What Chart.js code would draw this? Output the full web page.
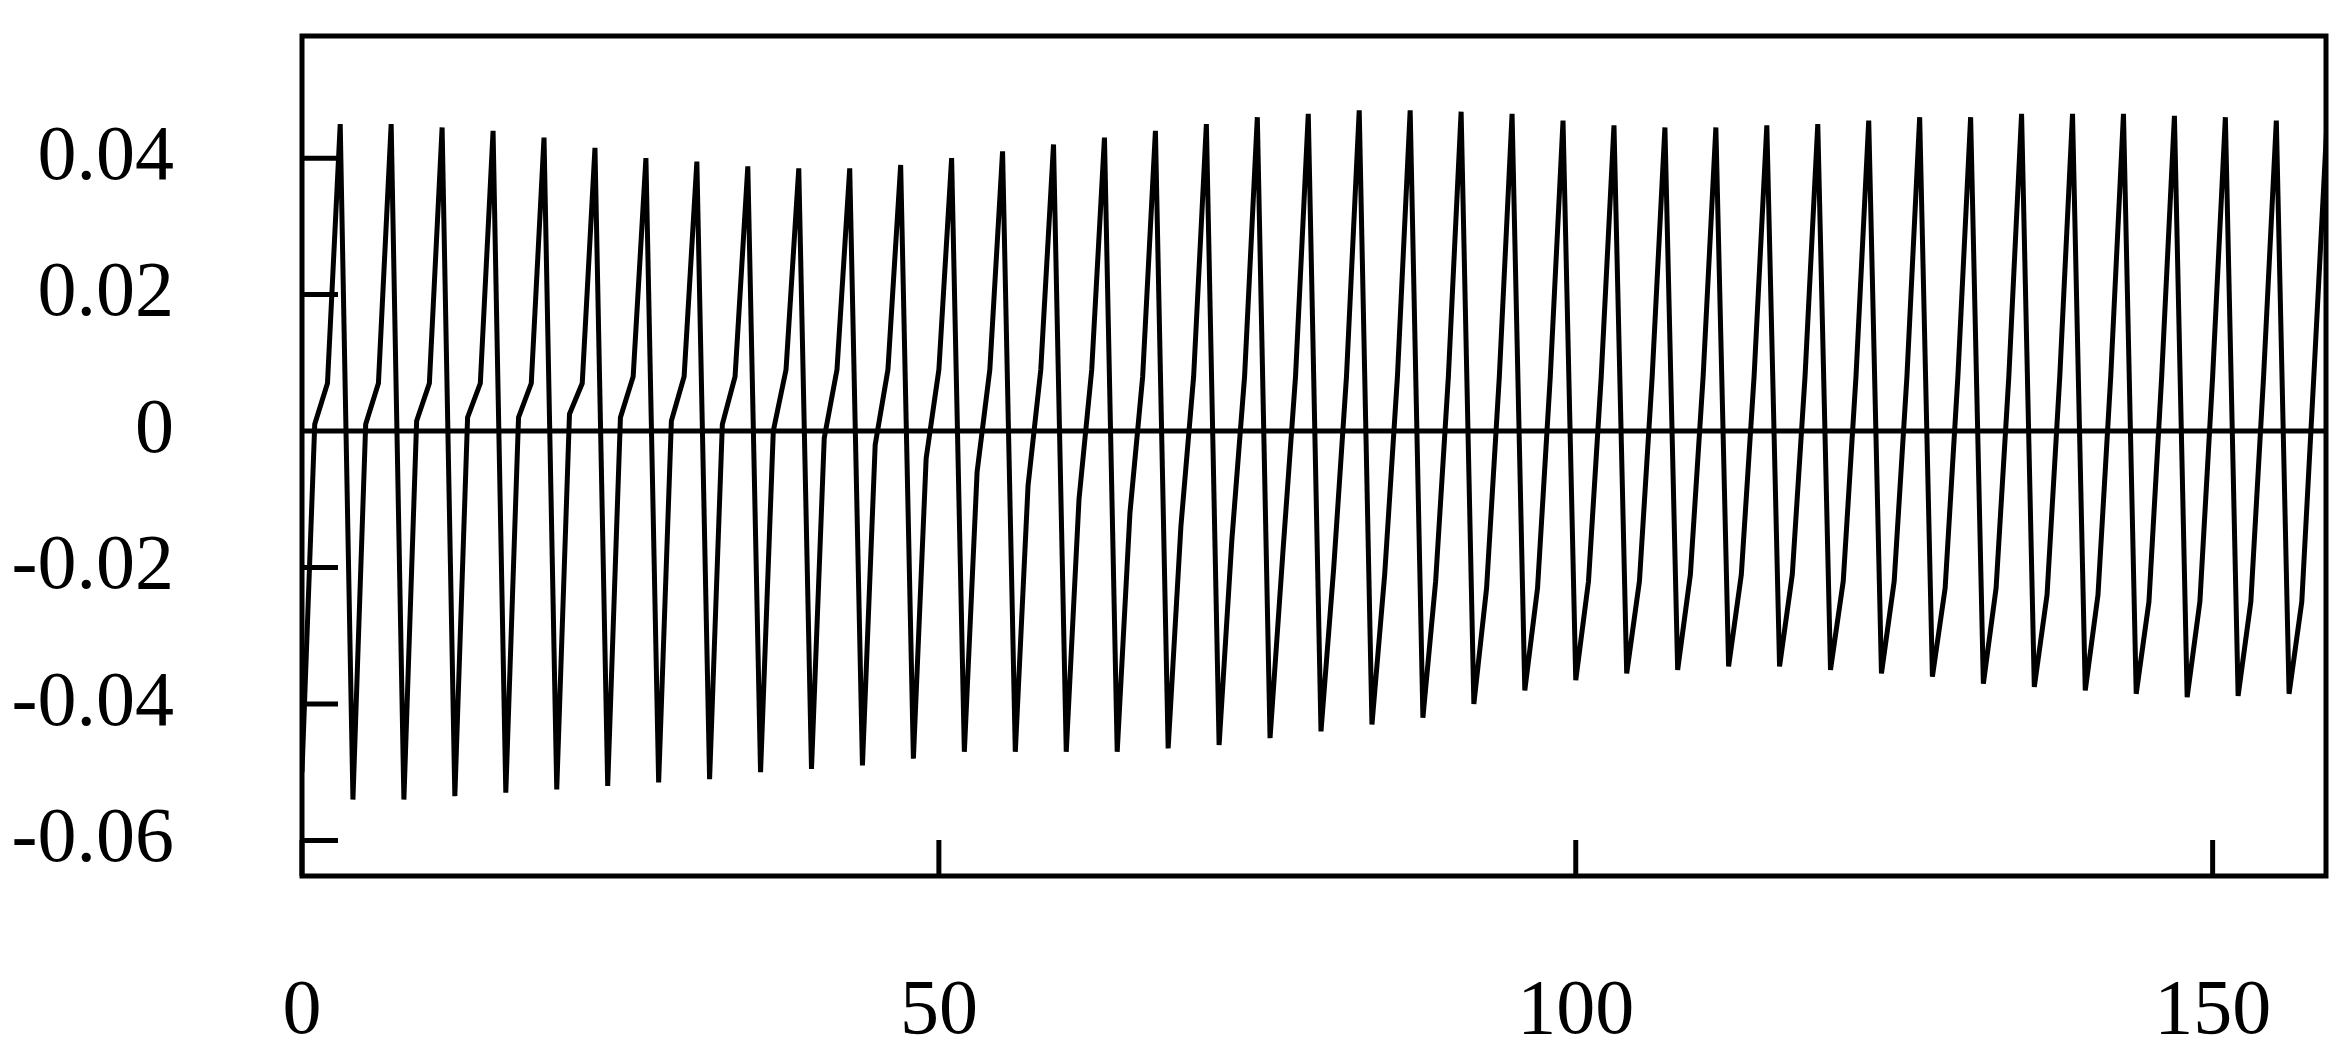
<!DOCTYPE html>
<html><head><meta charset="utf-8">
<script src="https://cdn.jsdelivr.net/npm/chart.js@4"></script>
<style>html,body{margin:0;padding:0;background:#fff}#c{display:block}</style>
</head><body><canvas id="c" width="2348" height="1062"></canvas>
<script>
const startValue = -0.050;
const riseA = [0.001,0.001,0.0015,0.002,0.002,0.0025,0.002,0.0015,0.001,0.0,-0.001,-0.002,-0.004,-0.006,-0.008,-0.010,-0.012,-0.014,-0.016,-0.018,-0.020,-0.021,-0.022,-0.023,-0.023,-0.022,-0.022,-0.021,-0.021,-0.021,-0.022,-0.022,-0.023,-0.023,-0.024,-0.024,-0.025,-0.025,-0.025,-0.025];
const riseB = [0.007,0.007,0.007,0.007,0.007,0.007,0.008,0.008,0.008,0.009,0.009,0.009,0.009,0.009,0.009,0.009,0.008,0.008,0.008,0.008,0.008,0.008,0.008,0.008,0.008,0.008,0.008,0.008,0.008,0.008,0.008,0.008,0.008,0.008,0.008,0.008,0.008,0.008,0.008,0.010];
const peaks = [0.045,0.045,0.0445,0.044,0.043,0.0415,0.040,0.0395,0.0388,0.0385,0.0385,0.039,0.040,0.041,0.042,0.043,0.044,0.045,0.046,0.0465,0.047,0.047,0.0468,0.0465,0.0455,0.0448,0.0445,0.0445,0.0448,0.045,0.0455,0.046,0.046,0.0465,0.0465,0.0465,0.0462,0.046,0.0455,0.046];
const troughs = [-0.054,-0.054,-0.0535,-0.053,-0.0525,-0.052,-0.0515,-0.051,-0.050,-0.0495,-0.049,-0.048,-0.047,-0.047,-0.047,-0.047,-0.0465,-0.046,-0.045,-0.044,-0.043,-0.042,-0.040,-0.038,-0.0365,-0.0355,-0.035,-0.0345,-0.0345,-0.035,-0.0355,-0.036,-0.037,-0.0375,-0.038,-0.0385,-0.039,-0.0388,-0.0385];
const xTicks = [0,50,100,150];
const yTicks = [-0.06,-0.04,-0.02,0,0.02,0.04];

const pts = [{x:0,y:startValue}];
for (let k=0;k<peaks.length;k++){
  pts.push({x:4*k+1,y:riseA[k]});
  pts.push({x:4*k+2,y:riseB[k]});
  pts.push({x:4*k+3,y:peaks[k]});
  if (k<troughs.length) pts.push({x:4*k+4,y:troughs[k]});
}
const fontSpec = {family:'"Liberation Serif", "Times New Roman", serif', size:78};
const frame = {
  id:'frame',
  afterDraw(chart){
    const {ctx, chartArea:a, scales:{x,y}} = chart;
    ctx.save();
    ctx.strokeStyle='#000'; ctx.lineWidth=5;
    ctx.strokeRect(a.left,a.top,a.right-a.left,a.bottom-a.top);
    ctx.beginPath();
    yTicks.forEach(v=>{const p=y.getPixelForValue(v);ctx.moveTo(a.left,p);ctx.lineTo(a.left+36,p);});
    xTicks.forEach(v=>{const p=x.getPixelForValue(v);ctx.moveTo(p,a.bottom);ctx.lineTo(p,a.bottom-36);});
    const z=y.getPixelForValue(0);
    ctx.moveTo(a.left,z);ctx.lineTo(a.right,z);
    ctx.stroke();
    ctx.restore();
  }
};
new Chart(document.getElementById('c'),{
  type:'line',
  data:{datasets:[{data:pts,borderColor:'#000',borderWidth:5,pointRadius:0,tension:0,fill:false}]},
  options:{
    responsive:false,animation:false,
    layout:{padding:{top:36,right:22,left:0,bottom:0}},
    plugins:{legend:{display:false},tooltip:{enabled:false}},
    scales:{
      x:{type:'linear',min:0,max:158.9,
        afterBuildTicks(s){s.ticks=xTicks.map(v=>({value:v}));},
        afterFit(s){s.height=186;s.paddingLeft=0;s.paddingRight=0;},
        grid:{display:false},border:{display:false},
        ticks:{color:'#000',font:fontSpec,padding:82,maxRotation:0,autoSkip:false}},
      y:{min:-0.0652,max:0.0579,
        afterBuildTicks(s){s.ticks=yTicks.map(v=>({value:v}));},
        afterFit(s){s.width=302;s.paddingTop=0;s.paddingBottom=0;},
        grid:{display:false},border:{display:false},
        ticks:{color:'#000',font:fontSpec,padding:120,autoSkip:false,
          callback:v=>v===0?'0':String(Math.round(v*100)/100)}}
    }
  },
  plugins:[frame]
});
</script></body></html>
